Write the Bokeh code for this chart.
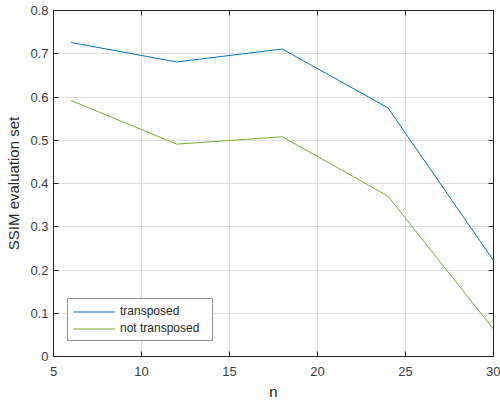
from bokeh.plotting import figure
from bokeh.models import Legend, LegendItem, FixedTicker, Range1d, LinearAxis
from bokeh.embed import file_html
from bokeh.resources import INLINE

n = [6, 12, 18, 24, 30]
transposed = [0.726, 0.681, 0.711, 0.575, 0.222]
not_transposed = [0.592, 0.491, 0.508, 0.371, 0.063]
x_ticks = [5, 10, 15, 20, 25, 30]
y_ticks = [0, 0.1, 0.2, 0.3, 0.4, 0.5, 0.6, 0.7, 0.8]

FONT = "Liberation Sans"
AX = "#262626"

p = figure(width=500, height=402, output_backend="svg", toolbar_location=None,
           x_range=Range1d(5, 30), y_range=Range1d(0, 0.8),
           min_border_left=53, min_border_top=10, min_border_right=7, min_border_bottom=45)
p.outline_line_color = AX
p.outline_line_width = 1

for ax in [p.xaxis[0], p.yaxis[0]]:
    ax.major_tick_in = 5
    ax.major_tick_out = 0
    ax.minor_tick_line_color = None
    ax.axis_line_color = AX
    ax.major_tick_line_color = AX
    ax.major_label_text_font = FONT
    ax.major_label_text_font_size = "13px"
    ax.major_label_text_color = "#3a3a3a"
    ax.axis_label_text_font = FONT
    ax.axis_label_text_font_size = "15px"
    ax.axis_label_text_font_style = "normal"
    ax.axis_label_text_color = AX

p.xaxis[0].ticker = FixedTicker(ticks=x_ticks)
p.yaxis[0].ticker = FixedTicker(ticks=y_ticks)
p.xaxis[0].axis_label = "n"
p.yaxis[0].axis_label = "SSIM evaluation set"
p.xaxis[0].major_label_standoff = 10
p.yaxis[0].major_label_standoff = 5
p.xaxis[0].axis_label_standoff = 4
p.yaxis[0].axis_label_standoff = 5

# box ticks on top and right (labels not drawn)
top_ax = LinearAxis(ticker=FixedTicker(ticks=x_ticks), major_tick_in=5, major_tick_out=0,
                    minor_tick_line_color=None, axis_line_color=AX, major_tick_line_color=AX,
                    major_label_text_color=None, major_label_text_font_size="1px",
                    major_label_standoff=0)
right_ax = LinearAxis(ticker=FixedTicker(ticks=y_ticks), major_tick_in=5, major_tick_out=0,
                      minor_tick_line_color=None, axis_line_color=AX, major_tick_line_color=AX,
                      major_label_text_color=None, major_label_text_font_size="1px",
                      major_label_standoff=0)
p.add_layout(top_ax, "above")
p.add_layout(right_ax, "right")

p.grid.grid_line_color = "#dedede"
p.xgrid.ticker = FixedTicker(ticks=x_ticks)
p.ygrid.ticker = FixedTicker(ticks=y_ticks)

r1 = p.line(n, transposed, line_color="#0072BD", line_width=1)
r2 = p.line(n, not_transposed, line_color="#77AC30", line_width=1)

legend = Legend(items=[LegendItem(label="transposed", renderers=[r1]),
                       LegendItem(label="not transposed", renderers=[r2])],
                location=(14, 15), orientation="vertical")
legend.border_line_color = AX
legend.border_line_width = 1
legend.background_fill_color = "white"
legend.background_fill_alpha = 1
legend.label_text_font = FONT
legend.label_text_font_size = "12px"
legend.label_text_color = AX
legend.glyph_width = 42
legend.glyph_height = 13
legend.label_height = 13
legend.label_width = 87
legend.spacing = 3
legend.padding = 5
legend.margin = 0
legend.label_standoff = 5
p.add_layout(legend, "center")

open("out.html", "w").write(file_html(p, INLINE))
